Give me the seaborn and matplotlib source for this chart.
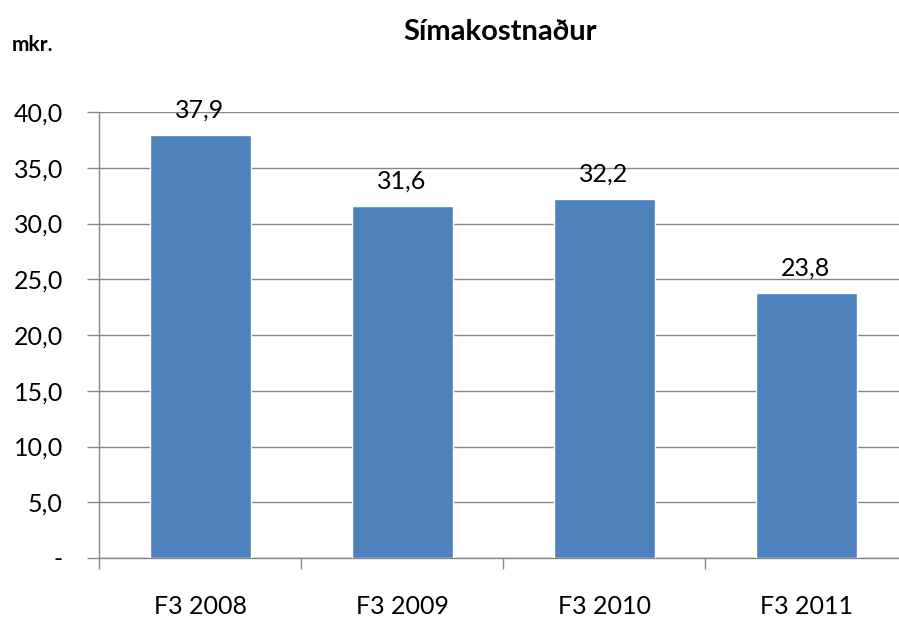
import matplotlib
matplotlib.use("Agg")
import matplotlib.pyplot as plt
import seaborn as sns
import pandas as pd
from matplotlib.ticker import FixedLocator, FuncFormatter

# data
categories = ["F3 2008", "F3 2009", "F3 2010", "F3 2011"]
values = [37.9, 31.6, 32.2, 23.8]
yticks = [0, 5, 10, 15, 20, 25, 30, 35, 40]

df = pd.DataFrame({"period": categories, "cost": values})

sns.set_style("white")
plt.rcParams["font.family"] = ["Lato", "DejaVu Sans"]
plt.rcParams["text.color"] = "black"
plt.rcParams["xtick.labelcolor"] = "black"
plt.rcParams["ytick.labelcolor"] = "black"

fig = plt.figure(figsize=(8.99, 6.18), dpi=100)
ax = fig.add_axes([99 / 899, 1 - 558 / 618, 808 / 899, (558 - 112) / 618])

sns.barplot(data=df, x="period", y="cost", color="#4F81BD", saturation=1,
            width=0.5, ax=ax, zorder=3)

ax.set_ylim(0, 40)
ax.set_xlim(-0.5, len(categories) - 0.5)
ax.set_yticks(yticks)
ax.yaxis.set_major_formatter(FuncFormatter(
    lambda v, p: "-" if v == 0 else f"{v:.1f}".replace(".", ",")))
ax.grid(axis="y", color="#868686", linewidth=1, zorder=0)

# category boundary ticks
ax.xaxis.set_major_locator(FixedLocator([i - 0.5 for i in range(len(categories) + 1)]))
ax.xaxis.set_minor_locator(FixedLocator(range(len(categories))))
ax.xaxis.set_major_formatter(FuncFormatter(lambda v, p: ""))
ax.xaxis.set_minor_formatter(FuncFormatter(lambda v, p: categories[int(round(v))]))
ax.tick_params(axis="x", which="major", length=8, width=1, color="#868686", direction="out", bottom=True)
ax.tick_params(axis="x", which="minor", length=0, pad=27, labelsize=18)
ax.tick_params(axis="y", length=9, width=1, color="#868686", direction="out", left=True,
               labelsize=18, pad=17)

for s in ["top", "right"]:
    ax.spines[s].set_visible(False)
for s in ["left", "bottom"]:
    ax.spines[s].set_color("#868686")
    ax.spines[s].set_linewidth(1)

ax.set_xlabel("")
ax.set_ylabel("")

for i, v in enumerate(values):
    ax.text(i, v + 1.2, f"{v:.1f}".replace(".", ","), ha="center", va="bottom", fontsize=18)

fig.text(500 / 899, 1 - 32 / 618, "Símakostnaður", ha="center", va="center",
         fontsize=21, fontweight="bold")
fig.text(12 / 899, 1 - 45 / 618, "mkr.", ha="left", va="center", fontsize=15, fontweight="bold")

fig.savefig("out.png", dpi=100)
